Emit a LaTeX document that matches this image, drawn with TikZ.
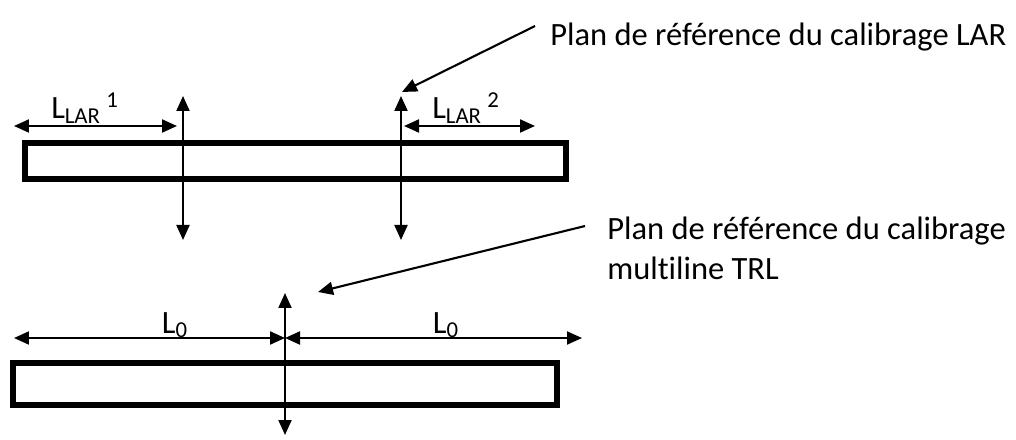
\documentclass[tikz,border=0pt]{standalone}
\usepackage{fontspec}
\setmainfont{Carlito}[Ligatures=NoCommon]
\usepackage{tikz}
\usetikzlibrary{positioning,arrows.meta,calc}

\begin{document}
\begin{tikzpicture}[x=0.02cm, y=0.02cm,
    ligne/.style={rectangle, draw, line width=3.4pt, inner sep=0pt},
    fleche/.style={line width=1.2pt, -{Triangle[length=0.3cm, width=0.26cm]}},
    cote/.style={line width=1.2pt, {Triangle[length=0.3cm, width=0.26cm]}-{Triangle[length=0.3cm, width=0.26cm]}},
    legende/.style={font=\fontsize{18.5}{22.5}\selectfont, inner sep=0pt, align=left}]
        \useasboundingbox (0,0) rectangle (1016,439);

        % ligne LAR
        \node[ligne, minimum width=10.82cm, minimum height=0.72cm] (lar) at (295.5,278) {};
        \coordinate (p1h) at (183,343); \coordinate (p1b) at (183,199);
        \coordinate (p2h) at (401,343); \coordinate (p2b) at (401,199);
        \draw[cote] (p1h) -- (p1b);
        \draw[cote] (p2h) -- (p2b);
        \coordinate (c1g) at (14,313); \coordinate (c1d) at (177,313);
        \coordinate (c2g) at (404,313); \coordinate (c2d) at (535,313);
        \draw[cote] (c1g) -- (c1d);
        \draw[cote] (c2g) -- (c2d);
        \node[legende] (l1) at (85,331) {L\textsubscript{LAR}\,\textsuperscript{1}};
        \node[legende] (l2) at (466,331) {L\textsubscript{LAR}\,\textsuperscript{2}};
        \node[legende, anchor=west] (planlar) at (550,402) {Plan de référence du calibrage LAR};
        \coordinate (d1) at (535,413); \coordinate (a1) at (402,347);
        \draw[fleche] (d1) -- (a1);

        % ligne multiline TRL
        \node[ligne, minimum width=10.88cm, minimum height=0.84cm] (trl) at (285,55) {};
        \coordinate (p3h) at (285,146); \coordinate (p3b) at (285,4);
        \draw[cote] (p3h) -- (p3b);
        \coordinate (c3g) at (14,101); \coordinate (c3m) at (285,101); \coordinate (c3d) at (582,101);
        \draw[cote] (c3g) -- (c3m);
        \draw[cote] (c3m) -- (c3d);
        \node[legende] (l3) at (175,114) {L\textsubscript{0}};
        \node[legende] (l4) at (446,114) {L\textsubscript{0}};
        \node[legende, anchor=north west] (plantrl) at (607,222) {Plan de référence du calibrage\\multiline TRL};
        \coordinate (d2) at (585,213); \coordinate (a2) at (318,147);
        \draw[fleche] (d2) -- (a2);
    \end{tikzpicture}
\end{document}
